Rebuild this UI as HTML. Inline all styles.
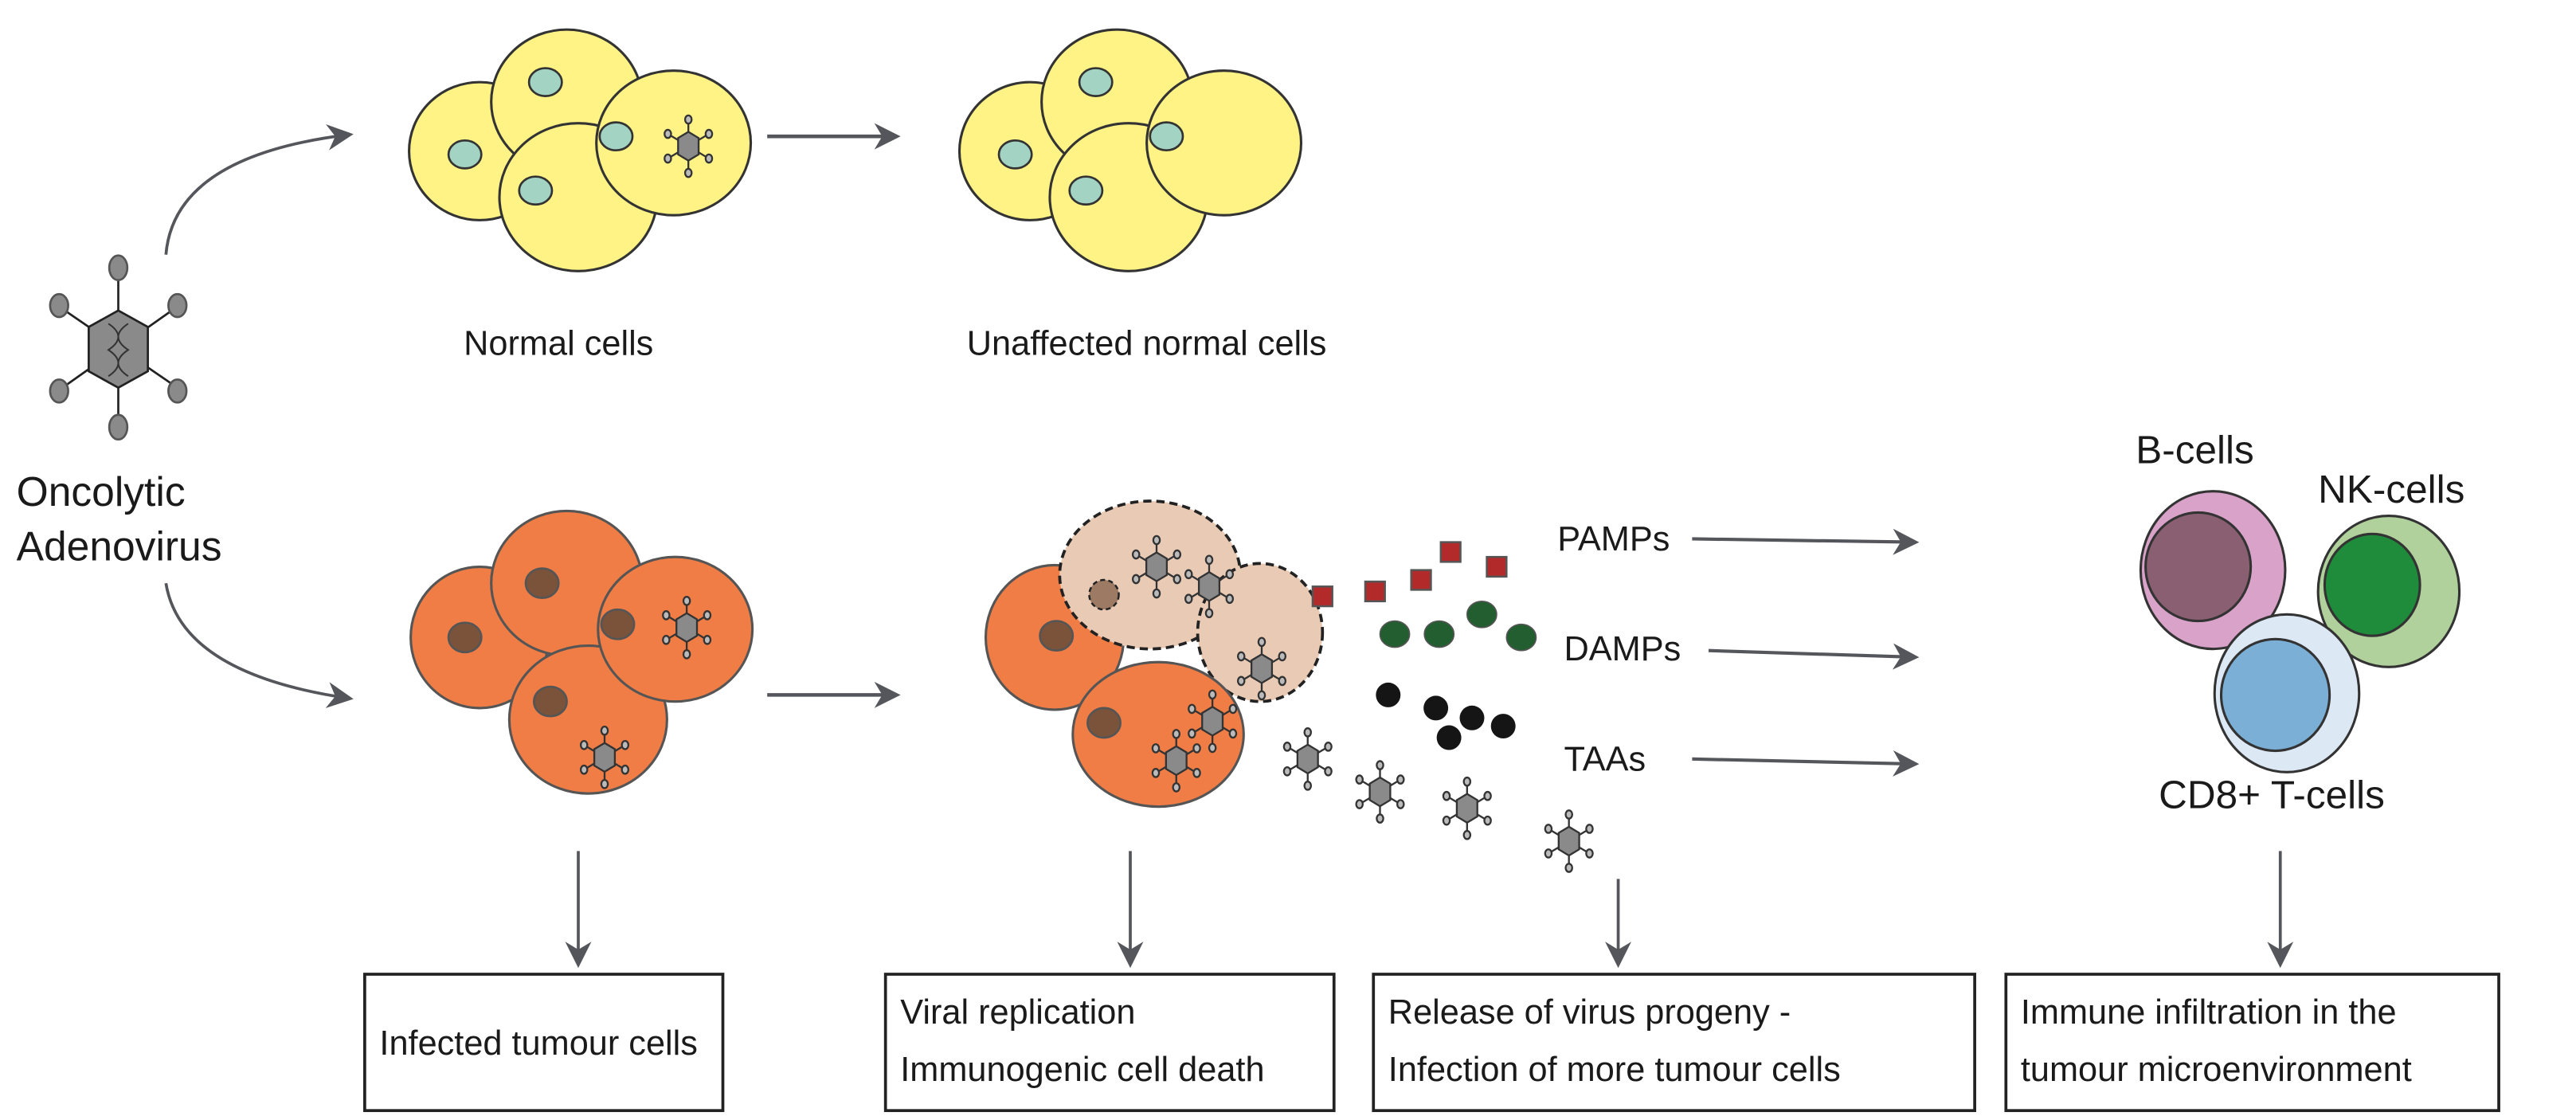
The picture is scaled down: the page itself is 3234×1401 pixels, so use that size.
<!DOCTYPE html>
<html><head><meta charset="utf-8"><style>
html,body{margin:0;padding:0;background:#fff;}
svg{display:block;}
text{font-family:"Liberation Sans",Arial,sans-serif;fill:#1a1a1a;}
</style></head><body>
<svg width="3234" height="1401" viewBox="0 0 1568 679.3" preserveAspectRatio="none" xmlns="http://www.w3.org/2000/svg">
<defs>
<marker id="ah2" viewBox="0 0 10 10" refX="8" refY="5" markerWidth="16" markerHeight="16" orient="auto" markerUnits="userSpaceOnUse">
<path d="M0,0 L10,5 L0,10 L3,5 Z" fill="#55565b"/></marker>
<symbol id="v" viewBox="-16 -16 32 32" overflow="visible">
<g stroke="#333" stroke-width="0.9">
<line x1="0" y1="0" x2="0" y2="-13"/><line x1="0" y1="0" x2="0" y2="13"/>
<line x1="0" y1="0" x2="-10" y2="-6"/><line x1="0" y1="0" x2="10" y2="-6"/>
<line x1="0" y1="0" x2="-10" y2="6"/><line x1="0" y1="0" x2="10" y2="6"/>
<polygon points="0,-7 5,-4 5,4 0,7 -5,4 -5,-4" fill="#8a8a8a"/>
<ellipse cx="0" cy="-13" rx="1.6" ry="2" fill="#bbb"/><ellipse cx="0" cy="13" rx="1.6" ry="2" fill="#bbb"/>
<ellipse cx="-10" cy="-6" rx="1.6" ry="2" fill="#bbb"/><ellipse cx="10" cy="-6" rx="1.6" ry="2" fill="#bbb"/>
<ellipse cx="-10" cy="6" rx="1.6" ry="2" fill="#bbb"/><ellipse cx="10" cy="6" rx="1.6" ry="2" fill="#bbb"/>
</g></symbol>
</defs>

<g stroke="#222" stroke-width="1.3">
<line x1="72" y1="165" x2="72" y2="258"/>
<line x1="38" y1="188" x2="108" y2="236"/><line x1="106" y1="188" x2="38" y2="236"/>
<polygon points="72,189 90,199 90,226 72,236 54,226 54,199" fill="#8a8a8a"/>
<path d="M66,197 Q78,205 66,213 Q78,221 66,229 M78,197 Q66,205 78,213 Q66,221 78,229" fill="none" stroke="#333" stroke-width="1"/>
<ellipse cx="72" cy="163" rx="5.5" ry="7.5" fill="#8a8a8a" stroke="#555"/>
<ellipse cx="72" cy="260" rx="5.5" ry="7.5" fill="#8a8a8a" stroke="#555"/>
<ellipse cx="36" cy="186" rx="5.5" ry="7" fill="#8a8a8a" stroke="#555"/>
<ellipse cx="108" cy="186" rx="5.5" ry="7" fill="#8a8a8a" stroke="#555"/>
<ellipse cx="36" cy="238" rx="5.5" ry="7" fill="#8a8a8a" stroke="#555"/>
<ellipse cx="108" cy="238" rx="5.5" ry="7" fill="#8a8a8a" stroke="#555"/>
</g>
<text x="10" y="308" font-size="25">Oncolytic</text>
<text x="10" y="341" font-size="25">Adenovirus</text>

<path d="M101,155 Q106,95 212,82" fill="none" stroke="#55565b" stroke-width="1.8" marker-end="url(#ah2)"/>
<path d="M101,355 Q110,410 212,425" fill="none" stroke="#55565b" stroke-width="1.8" marker-end="url(#ah2)"/>

<g stroke="#333" stroke-width="1.5" fill="#fff385">
<ellipse cx="292" cy="92" rx="43" ry="42"/>
<ellipse cx="345" cy="62" rx="46" ry="44"/>
<ellipse cx="352" cy="120" rx="48" ry="45"/>
<ellipse cx="410" cy="87" rx="47" ry="44"/>
</g>
<g fill="#a3d4c3" stroke="#333" stroke-width="1.3">
<ellipse cx="283" cy="94" rx="10" ry="8.5"/><ellipse cx="332" cy="50" rx="10" ry="8.5"/>
<ellipse cx="326" cy="116" rx="10" ry="8.5"/><ellipse cx="375" cy="83" rx="10" ry="8.5"/>
</g>
<use href="#v" x="399" y="69" width="40" height="40"/>
<line x1="467" y1="83" x2="545" y2="83" stroke="#55565b" stroke-width="2.2" marker-end="url(#ah2)"/>

<g stroke="#333" stroke-width="1.5" fill="#fff385">
<ellipse cx="627" cy="92" rx="43" ry="42"/>
<ellipse cx="680" cy="62" rx="46" ry="44"/>
<ellipse cx="687" cy="120" rx="48" ry="45"/>
<ellipse cx="745" cy="87" rx="47" ry="44"/>
</g>
<g fill="#a3d4c3" stroke="#333" stroke-width="1.3">
<ellipse cx="618" cy="94" rx="10" ry="8.5"/><ellipse cx="667" cy="50" rx="10" ry="8.5"/>
<ellipse cx="661" cy="116" rx="10" ry="8.5"/><ellipse cx="710" cy="83" rx="10" ry="8.5"/>
</g>
<text x="340" y="216" font-size="21" text-anchor="middle">Normal cells</text>
<text x="698" y="216" font-size="21" text-anchor="middle">Unaffected normal cells</text>

<g stroke="#555" stroke-width="1.5" fill="#ef7d45">
<ellipse cx="292" cy="388" rx="42" ry="43"/>
<ellipse cx="345" cy="355" rx="46" ry="44"/>
<ellipse cx="358" cy="438" rx="48" ry="45"/>
<ellipse cx="411" cy="383" rx="47" ry="44"/>
</g>
<g fill="#7b533b" stroke="#555" stroke-width="1.3">
<ellipse cx="283" cy="388" rx="10" ry="9"/><ellipse cx="330" cy="355" rx="10" ry="9"/>
<ellipse cx="335" cy="427" rx="10" ry="9"/><ellipse cx="376" cy="380" rx="10" ry="9"/>
</g>
<use href="#v" x="398" y="362" width="40" height="40"/>
<use href="#v" x="348" y="441" width="40" height="40"/>
<line x1="467" y1="423" x2="545" y2="423" stroke="#55565b" stroke-width="2.2" marker-end="url(#ah2)"/>

<ellipse cx="642" cy="388" rx="42" ry="44" fill="#ef7d45" stroke="#555" stroke-width="1.5"/>
<ellipse cx="700" cy="350" rx="55" ry="45" fill="#e9cbb5" stroke="#222" stroke-width="1.8" stroke-dasharray="5,3"/>
<ellipse cx="767" cy="385" rx="38" ry="42" fill="#e9cbb5" stroke="#222" stroke-width="1.8" stroke-dasharray="5,3"/>
<ellipse cx="705" cy="447" rx="52" ry="44" fill="#ef7d45" stroke="#555" stroke-width="1.5"/>
<ellipse cx="672" cy="362" rx="9" ry="9" fill="#9c7a64" stroke="#222" stroke-width="1.2" stroke-dasharray="3,2"/>
<ellipse cx="643" cy="387" rx="10" ry="9" fill="#7b533b" stroke="#555" stroke-width="1.3"/>
<ellipse cx="672" cy="440" rx="10" ry="9" fill="#7b533b" stroke="#555" stroke-width="1.3"/>
<use href="#v" x="684" y="325" width="40" height="40"/>
<use href="#v" x="716" y="337" width="40" height="40"/>
<use href="#v" x="748" y="387" width="40" height="40"/>
<use href="#v" x="718" y="419" width="40" height="40"/>
<use href="#v" x="696" y="443" width="40" height="40"/>
<use href="#v" x="776" y="442" width="40" height="40"/>
<use href="#v" x="820" y="462" width="40" height="40"/>
<use href="#v" x="873" y="472" width="40" height="40"/>
<use href="#v" x="935" y="492" width="40" height="40"/>

<g fill="#b22a2a" stroke="#555" stroke-width="1.2">
<rect x="799" y="357" width="12" height="12"/><rect x="831" y="354" width="12" height="12"/>
<rect x="859" y="347" width="12" height="12"/><rect x="877" y="330" width="12" height="12"/>
<rect x="905" y="339" width="12" height="12"/>
</g>
<g fill="#225e30" stroke="#555" stroke-width="0.8">
<ellipse cx="849" cy="386" rx="9" ry="8"/><ellipse cx="876" cy="386" rx="9" ry="8"/>
<ellipse cx="902" cy="374" rx="9" ry="8"/><ellipse cx="926" cy="388" rx="9" ry="8"/>
</g>
<g fill="#151515">
<circle cx="845" cy="423" r="7.5"/><circle cx="874" cy="431" r="7.5"/>
<circle cx="896" cy="437" r="7.5"/><circle cx="915" cy="442" r="7.5"/><circle cx="882" cy="449" r="7.5"/>
</g>
<text x="948" y="335" font-size="21">PAMPs</text>
<text x="952" y="402" font-size="21">DAMPs</text>
<text x="952" y="469" font-size="21">TAAs</text>
<line x1="1030" y1="328" x2="1165" y2="330" stroke="#55565b" stroke-width="2" marker-end="url(#ah2)"/>
<line x1="1040" y1="396" x2="1165" y2="400" stroke="#55565b" stroke-width="2" marker-end="url(#ah2)"/>
<line x1="1030" y1="462" x2="1165" y2="465" stroke="#55565b" stroke-width="2" marker-end="url(#ah2)"/>

<g stroke="#333" stroke-width="1.5">
<ellipse cx="1347" cy="347" rx="44" ry="48" fill="#d9a2c8"/>
<ellipse cx="1338" cy="345" rx="32" ry="33" fill="#8a5f72"/>
<ellipse cx="1454" cy="360" rx="43" ry="46" fill="#b0d19b"/>
<ellipse cx="1444" cy="356" rx="29" ry="31" fill="#1e8c3a"/>
<ellipse cx="1392" cy="422" rx="44" ry="48" fill="#dde8f5"/>
<ellipse cx="1385" cy="423" rx="33" ry="34" fill="#7bafd6"/>
</g>
<text x="1300" y="282" font-size="24">B-cells</text>
<text x="1411" y="306" font-size="24">NK-cells</text>
<text x="1314" y="492" font-size="24">CD8+ T-cells</text>

<g stroke="#55565b" stroke-width="1.8">
<line x1="352" y1="518" x2="352" y2="586" marker-end="url(#ah2)"/>
<line x1="688" y1="518" x2="688" y2="586" marker-end="url(#ah2)"/>
<line x1="985" y1="535" x2="985" y2="586" marker-end="url(#ah2)"/>
<line x1="1388" y1="518" x2="1388" y2="586" marker-end="url(#ah2)"/>
</g>

<g fill="#fff" stroke="#222" stroke-width="1.8">
<rect x="222" y="593" width="218" height="83"/>
<rect x="539" y="593" width="273" height="83"/>
<rect x="836" y="593" width="366" height="83"/>
<rect x="1221" y="593" width="300" height="83"/>
</g>
<text x="231" y="642" font-size="21">Infected tumour cells</text>
<text x="548" y="623" font-size="21">Viral replication</text>
<text x="548" y="658" font-size="21">Immunogenic cell death</text>
<text x="845" y="623" font-size="21">Release of virus progeny -</text>
<text x="845" y="658" font-size="21">Infection of more tumour cells</text>
<text x="1230" y="623" font-size="21">Immune infiltration in the</text>
<text x="1230" y="658" font-size="21">tumour microenvironment</text>
</svg>
</body></html>
